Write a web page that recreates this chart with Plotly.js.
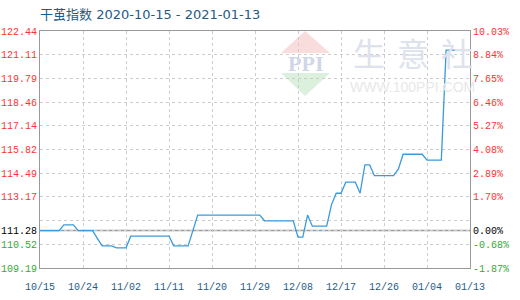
<!DOCTYPE html>
<html>
<head>
<meta charset="utf-8">
<script src="https://cdn.plot.ly/plotly-3.0.1.min.js"></script>
<style>
  html, body { margin: 0; padding: 0; background: #fff; }
  #chart { width: 520px; height: 300px; }
</style>
</head>
<body>
<div id="chart"></div>
<script>
// 干茧指数 daily values, 2020-10-15 .. 2021-01-13
const startDate = '2020-10-15';
const endDate = '2021-01-13';
const indexValues = [
  111.28, 111.28, 111.28, 111.28, 111.28, 111.60, 111.60, 111.60, 111.28, 111.28, // 10/15-10/24
  111.28, 111.28, 110.85, 110.43, 110.43, 110.43, 110.32, 110.32, 110.32, 110.97, // 10/25-11/03
  110.97, 110.97, 110.97, 110.97, 110.97, 110.97, 110.97, 110.97, 110.43, 110.43, // 11/04-11/13
  110.43, 110.43, 111.28, 112.15, 112.15, 112.15, 112.15, 112.15, 112.15, 112.15, // 11/14-11/23
  112.15, 112.15, 112.15, 112.15, 112.15, 112.15, 112.15, 111.83, 111.83, 111.83, // 11/24-12/03
  111.83, 111.83, 111.83, 111.83, 110.92, 110.92, 112.15, 111.53, 111.53, 111.53, // 12/04-12/13
  111.53, 112.72, 113.37, 113.37, 113.99, 113.99, 113.99, 113.37, 114.95, 114.95, // 12/14-12/23
  114.35, 114.35, 114.35, 114.35, 114.35, 114.71, 115.55, 115.55, 115.55, 115.55, // 12/24-01/02
  115.55, 115.22, 115.22, 115.22, 115.22, 121.37, 121.37, 121.37, 121.37, 121.37, // 01/03-01/12
  121.37                                                                          // 01/13
];

// Left axis: index levels; right axis: change vs. the 10/15 base
const baseValue = 111.28;
const yTickVals   = [122.44, 121.11, 119.79, 118.46, 117.14, 115.82, 114.49, 113.17, 111.84, 111.28, 110.52, 109.19];
const yTickLabels = ['122.44', '121.11', '119.79', '118.46', '117.14', '115.82', '114.49', '113.17', '', '111.28', '110.52', '109.19'];
const pctTickLabels = ['10.03%', '8.84%', '7.65%', '6.46%', '5.27%', '4.08%', '2.89%', '1.70%', '', '0.00%', '-0.68%', '-1.87%'];

const xTickVals = ['2020-10-15', '2020-10-24', '2020-11-02', '2020-11-11', '2020-11-20', '2020-11-29',
                   '2020-12-08', '2020-12-17', '2020-12-26', '2021-01-04', '2021-01-13'];
const xTickLabels = ['10/15', '10/24', '11/02', '11/11', '11/20', '11/29',
                     '12/08', '12/17', '12/26', '01/04', '01/13'];

// one date per value, consecutive days from the start date
const dates = indexValues.map((_, i) => {
  const d = new Date(startDate + 'T00:00:00Z');
  d.setUTCDate(d.getUTCDate() + i);
  return d.toISOString().slice(0, 10);
});

const RED = '#ff3333', GREEN = '#33aa33', BLACK = '#000000', BLUE_TEXT = '#1f5b87';
function colored(labels) {
  return labels.map((t, i) => {
    if (!t) return '';
    const v = yTickVals[i];
    const c = v > baseValue ? RED : (v < baseValue ? GREEN : BLACK);
    return '<span style="color:' + c + '">' + t + '</span>';
  });
}

const yRange = [109.19, 122.44];
const tickFont = { family: 'Liberation Mono, DejaVu Sans Mono, monospace', size: 10, color: BLUE_TEXT };

const traces = [
  {
    x: dates, y: indexValues, type: 'scatter', mode: 'lines',
    line: { color: '#3a9bdc', width: 1.3 },
    hoverinfo: 'skip', yaxis: 'y'
  },
  {
    x: dates, y: indexValues, type: 'scatter', mode: 'lines',
    line: { color: 'rgba(0,0,0,0)', width: 0 },
    hoverinfo: 'skip', yaxis: 'y2', showlegend: false
  }
];

// paper coordinates helpers for the plot area (40..470 x 31..268 px)
const px = x => (x - 40) / 430;
const py = y => (268 - y) / 237;

function mark(text, x, y, font) {
  return { text: text, xref: 'paper', yref: 'paper', x: px(x), y: py(y),
           xanchor: 'center', yanchor: 'middle', showarrow: false, font: font };
}
const cjkMark = { family: 'Noto Sans CJK SC, sans-serif', size: 32, color: '#dde2ed' };

const layout = {
  width: 520, height: 300,
  margin: { l: 40, r: 50, t: 31, b: 32 },
  paper_bgcolor: '#ffffff', plot_bgcolor: '#ffffff',
  showlegend: false,
  title: {
    text: '干茧指数 2020-10-15 - 2021-01-13',
    font: { family: 'DejaVu Sans, Noto Sans CJK SC, sans-serif', size: 13, color: BLUE_TEXT },
    xref: 'container', yref: 'container', x: 40 / 520, xanchor: 'left', y: 1 - 14 / 300, yanchor: 'middle'
  },
  xaxis: {
    type: 'date', range: [startDate, endDate],
    tickvals: xTickVals, ticktext: xTickLabels,
    tickfont: tickFont, ticks: 'outside', ticklen: 9, tickcolor: 'rgba(0,0,0,0)',
    showgrid: true, gridcolor: '#cccccc', griddash: '3px,3px', gridwidth: 1,
    showline: true, linecolor: '#999999', linewidth: 1, mirror: true,
    zeroline: false, fixedrange: true
  },
  yaxis: {
    range: yRange, tickvals: yTickVals, ticktext: colored(yTickLabels),
    tickfont: Object.assign({}, tickFont, { color: BLACK }), ticks: '',
    showgrid: true, gridcolor: '#cccccc', griddash: '3px,3px', gridwidth: 1,
    showline: true, linecolor: '#999999', linewidth: 1,
    zeroline: false, fixedrange: true
  },
  yaxis2: {
    range: yRange, tickvals: yTickVals, ticktext: colored(pctTickLabels),
    tickfont: Object.assign({}, tickFont, { color: BLACK }), ticks: '',
    overlaying: 'y', side: 'right', showgrid: false,
    showline: true, linecolor: '#999999', linewidth: 1,
    zeroline: false, fixedrange: true
  },
  shapes: [
    // watermark logo triangles
    { type: 'path', xref: 'paper', yref: 'paper', layer: 'below', line: { width: 0 },
      fillcolor: '#f9dcdc',
      path: 'M ' + px(305) + ' ' + py(31) + ' L ' + px(281) + ' ' + py(53) + ' L ' + px(330) + ' ' + py(53) + ' Z' },
    { type: 'path', xref: 'paper', yref: 'paper', layer: 'below', line: { width: 0 },
      fillcolor: '#dcf0de',
      path: 'M ' + px(281) + ' ' + py(73) + ' L ' + px(330) + ' ' + py(73) + ' L ' + px(305) + ' ' + py(96) + ' Z' },
    // base-level line
    { type: 'line', xref: 'paper', yref: 'y', x0: 0, x1: 1, y0: baseValue, y1: baseValue,
      line: { color: '#999999', width: 1.5 }, layer: 'below' }
  ],
  annotations: [
    mark('<b>PPI</b>', 305, 63, { family: 'Liberation Serif, serif', size: 22, color: '#cfd7e8' }),
    mark('生', 369, 52, cjkMark),
    mark('意', 413, 52, cjkMark),
    mark('社', 457, 52, cjkMark),
    mark('WWW.100PPI.COM', 412, 87, { family: 'Liberation Sans, Arial, sans-serif', size: 14, color: '#e8e8e8' })
  ]
};

Plotly.newPlot('chart', traces, layout, { staticPlot: true, displayModeBar: false });
</script>
</body>
</html>
